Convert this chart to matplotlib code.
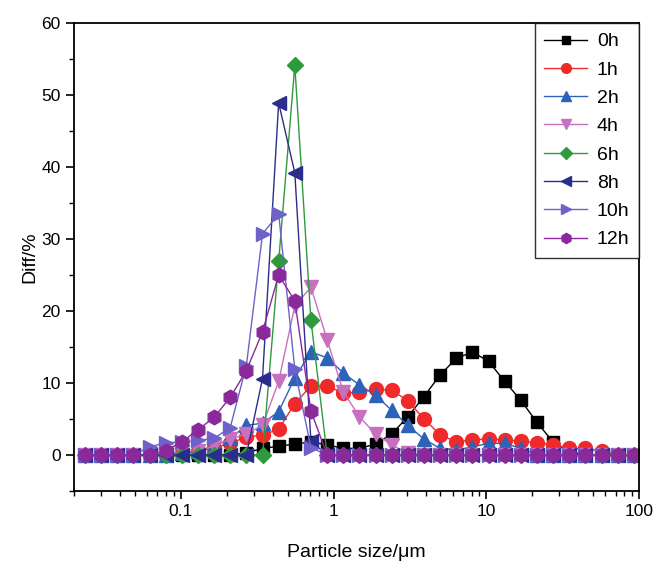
import numpy as np
from matplotlib import pyplot as plt
from matplotlib.ticker import FixedLocator, LogLocator, NullFormatter, FuncFormatter, MultipleLocator

plt.rcParams['font.family'] = ['Liberation Sans', 'DejaVu Sans']

# particle size bins (um)
size = [0.0236, 0.0301, 0.0384, 0.0489, 0.0624, 0.0796, 0.1015, 0.1294, 0.165, 0.2105,
        0.2685, 0.3424, 0.4367, 0.5569, 0.7102, 0.906, 1.155, 1.474, 1.879, 2.397,
        3.057, 3.899, 4.973, 6.342, 8.089, 10.32, 13.16, 16.78, 21.4, 27.3,
        34.82, 44.41, 56.62, 72.23, 92.1]

# differential volume (%) for each grinding time
h0 = [0, 0, 0, 0, 0, 0, 0, 0, 0, 0,
      0.3, 0.9, 1.2, 1.5, 1.8, 1.4, 0.9, 0.9, 1.5, 2.9,
      5.3, 8.1, 11.1, 13.4, 14.3, 13.0, 10.2, 7.6, 4.5, 1.8,
      0.4, 0, 0, 0, 0]
h1 = [0, 0, 0, 0, 0, 0, 0.2, 0.5, 1.0, 1.6,
      2.5, 2.7, 3.6, 7.1, 9.6, 9.6, 8.6, 8.7, 9.1, 9.0,
      7.5, 5.0, 2.8, 1.8, 2.1, 2.2, 2.1, 1.9, 1.7, 1.4,
      0.9, 0.9, 0.5, 0, 0]
h2 = [0, 0, 0, 0, 0, 0, 0.2, 0.6, 1.2, 2.3,
      4.1, 4.4, 6.0, 10.7, 14.3, 13.5, 11.4, 9.7, 8.3, 6.2,
      4.1, 2.2, 0.9, 0.7, 1.1, 1.6, 1.6, 0.9, 0, 0,
      0, 0, 0, 0, 0]
h4 = [0, 0, 0, 0, 0, 0.2, 0.4, 0.6, 1.2, 2.2,
      2.9, 4.1, 10.2, 20.7, 23.3, 16.0, 8.8, 5.3, 2.9, 1.4,
      0.2, 0, 0, 0, 0, 0, 0, 0, 0, 0,
      0, 0, 0, 0, 0]
h6 = [0, 0, 0, 0, 0, 0, 0, 0, 0, 0,
      0, 0, 26.9, 54.1, 18.7, 0, 0, 0, 0, 0,
      0, 0, 0, 0, 0, 0, 0, 0, 0, 0,
      0, 0, 0, 0, 0]
h8 = [0, 0, 0, 0, 0, 0, 0, 0, 0, 0,
      0, 10.6, 48.9, 39.2, 1.9, 0, 0, 0, 0, 0,
      0, 0, 0, 0, 0, 0, 0, 0, 0, 0,
      0, 0, 0, 0, 0]
h10 = [0, 0, 0, 0, 1.1, 1.7, 1.8, 2.0, 2.3, 3.8,
       12.4, 30.7, 33.5, 11.9, 1.0, 0, 0, 0, 0, 0,
       0, 0, 0, 0, 0, 0, 0, 0, 0, 0,
       0, 0, 0, 0, 0]
h12 = [0, 0, 0, 0, 0, 0.6, 1.8, 3.5, 5.2, 8.0,
       11.7, 17.1, 25.0, 21.4, 6.1, 0, 0, 0, 0, 0,
       0, 0, 0, 0, 0, 0, 0, 0, 0, 0,
       0, 0, 0, 0, 0]

labels = ['0h', '1h', '2h', '4h', '6h', '8h', '10h', '12h']
series = [h0, h1, h2, h4, h6, h8, h10, h12]
colors = ['#000000', '#F02A2A', '#2C62B8', '#C870C0', '#2E9A3C', '#2B2D8C', '#6E62C8', '#8A2A9A']
markers = ['s', 'o', '^', 'v', 'D', '<', '>', 'h']
msizes = [8.5, 10, 10.5, 10.5, 8.5, 10.5, 10.5, 10.5]

fig = plt.figure()
fig.set_size_inches(6.55, 5.61)
ax = fig.add_axes([0.113, 0.125, 0.863, 0.834])

for y, lab, c, m, ms in zip(series, labels, colors, markers, msizes):
    ax.plot(size, y, color=c, marker=m, markersize=ms, markeredgecolor=c,
            linewidth=1.0, label=lab)

ax.set_xscale('log')
ax.set_xlim(0.02, 100)
ax.set_ylim(-5, 60)

ax.xaxis.set_major_locator(FixedLocator([0.1, 1, 10, 100]))
ax.xaxis.set_major_formatter(FuncFormatter(lambda v, p: '%g' % v))
ax.xaxis.set_minor_locator(LogLocator(base=10, subs=np.arange(2, 10)))
ax.xaxis.set_minor_formatter(NullFormatter())
ax.yaxis.set_major_locator(MultipleLocator(10))
ax.yaxis.set_minor_locator(MultipleLocator(5))
ax.set_yticks([0, 10, 20, 30, 40, 50, 60])

ax.tick_params(which='major', direction='out', length=6, width=1.2, labelsize=12.5)
ax.tick_params(which='minor', direction='out', length=3.5, width=1.0)
for s in ax.spines.values():
    s.set_linewidth(1.3)

ax.set_xlabel('Particle size/\u03bcm', fontsize=14, labelpad=18)
ax.set_ylabel('Diff/%', fontsize=14, labelpad=2)

leg = ax.legend(loc='upper right', borderaxespad=0, fontsize=14, fancybox=False,
                handlelength=2.2, handletextpad=0.5, markerscale=0.7,
                labelspacing=0.55, borderpad=0.5)
leg.get_frame().set_edgecolor('black')
leg.get_frame().set_linewidth(1.0)

fig.savefig('out.png', dpi=100)
